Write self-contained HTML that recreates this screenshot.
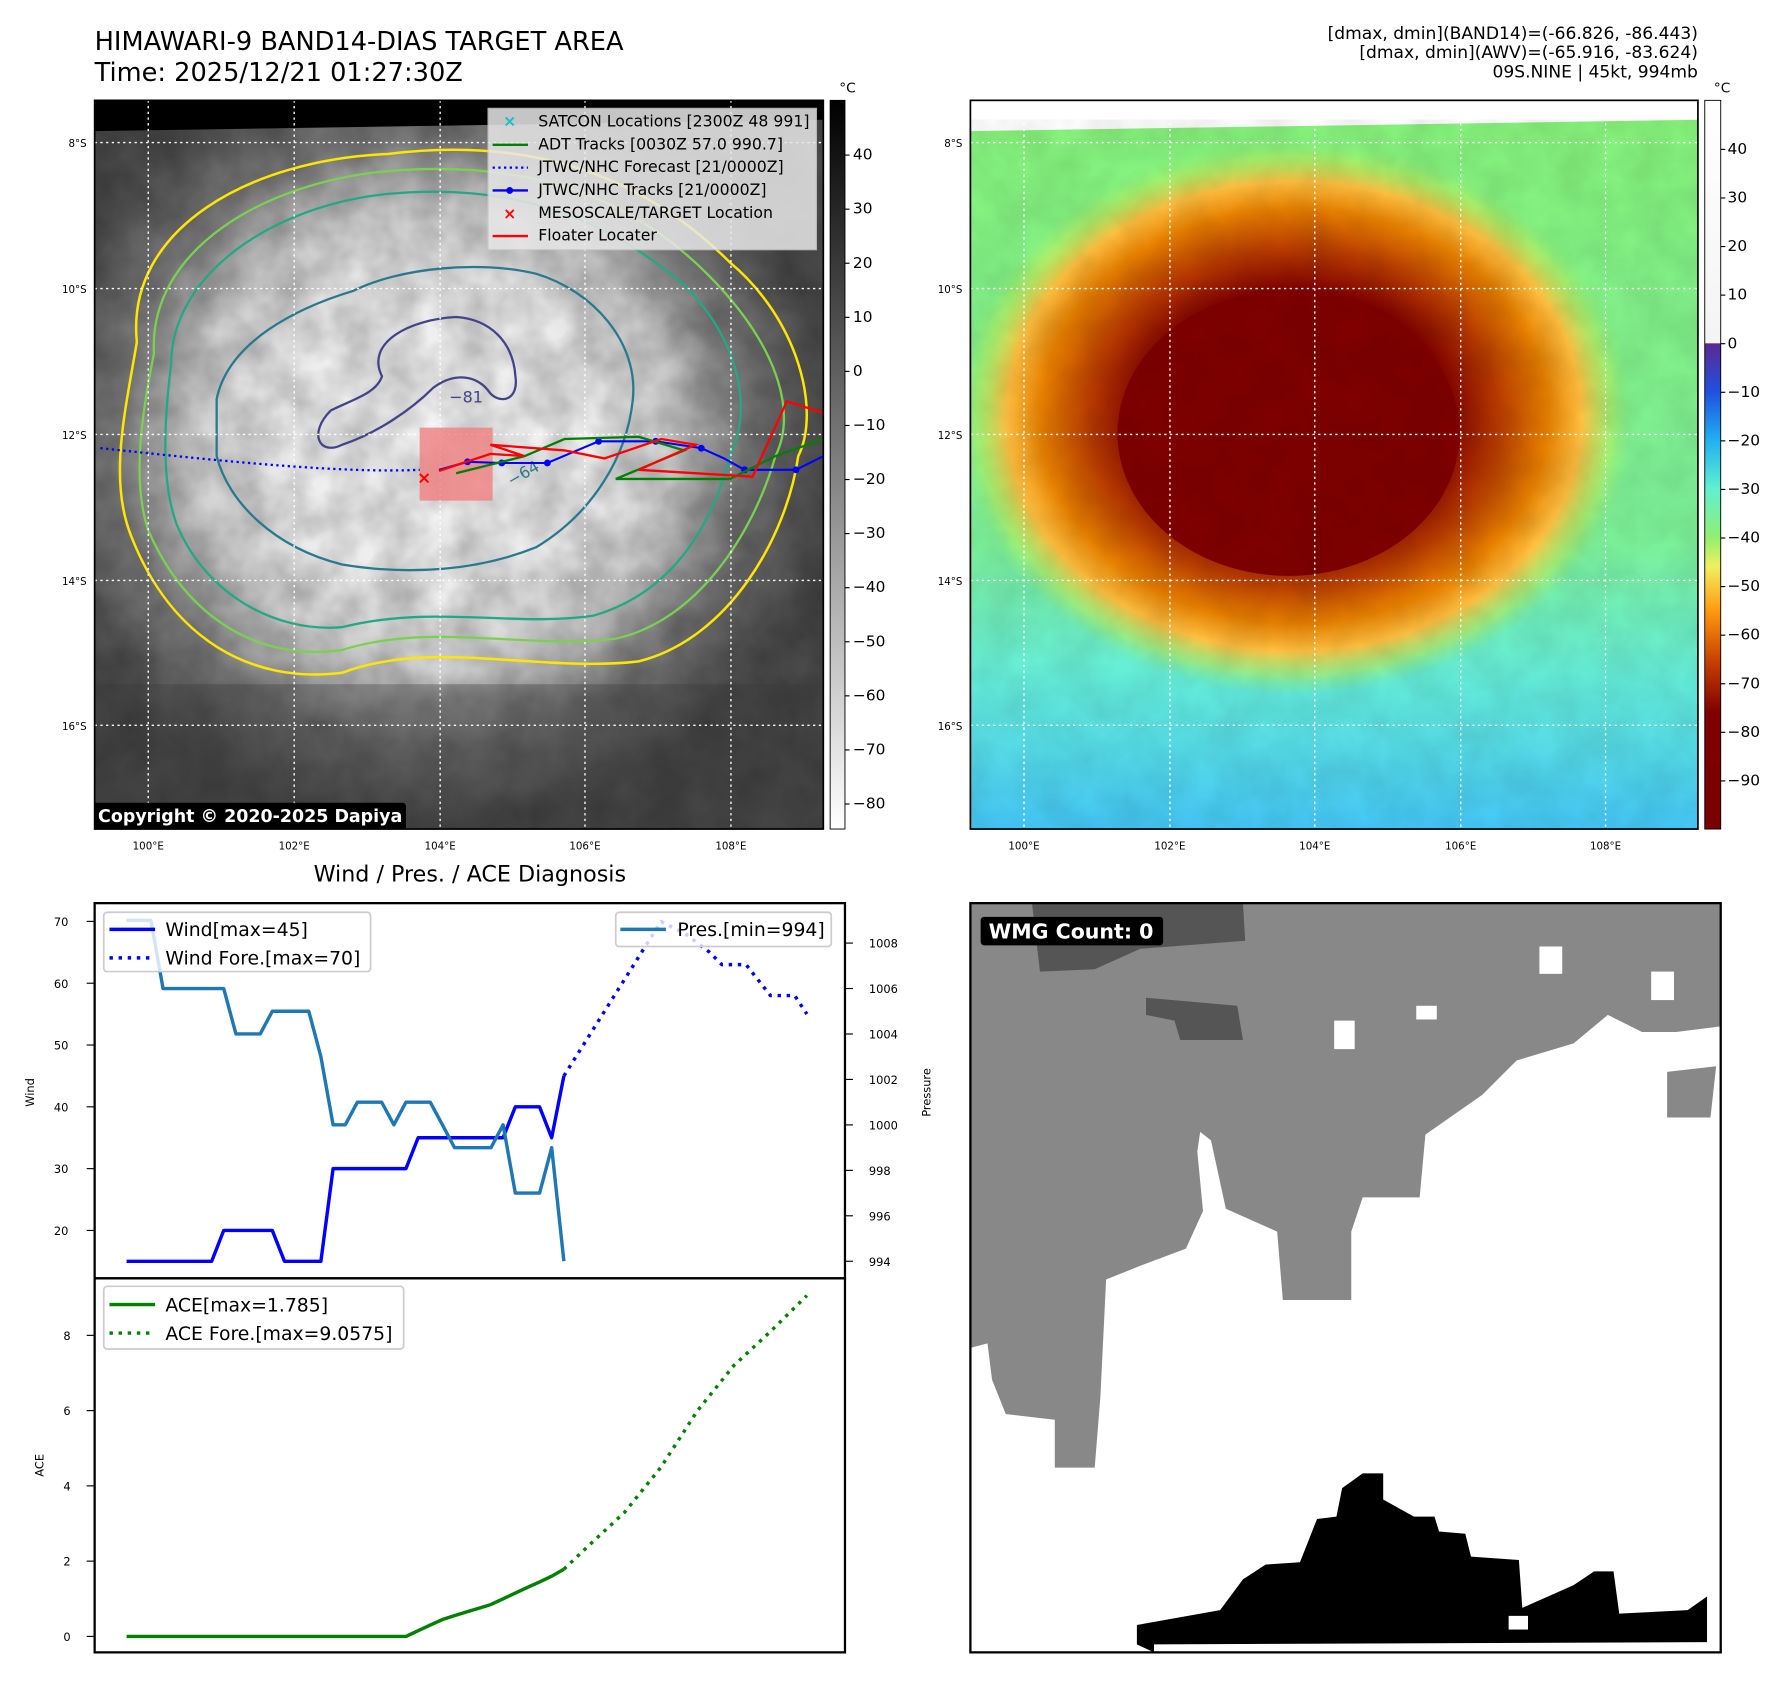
<!DOCTYPE html>
<html><head><meta charset="utf-8"><style>
html,body{margin:0;padding:0;background:#fff;}
svg{display:block;font-family:"DejaVu Sans","Liberation Sans",sans-serif;}
</style></head><body>
<svg id="root" width="1788" height="1690" viewBox="0 0 1568 1482" preserveAspectRatio="none" xmlns="http://www.w3.org/2000/svg">
<defs>
<radialGradient id="grayStorm" cx="0.46" cy="0.45" r="0.55">
<stop offset="0" stop-color="#f6f6f6"/><stop offset="0.4" stop-color="#ececec"/><stop offset="0.6" stop-color="#cfcfcf"/><stop offset="0.78" stop-color="#7a7a7a"/><stop offset="1" stop-color="#4a4a4a"/>
</radialGradient>
<radialGradient id="colStorm" cx="0.5" cy="0.5" r="0.5">
<stop offset="0" stop-color="#7d0000"/><stop offset="0.45" stop-color="#800000"/><stop offset="0.6" stop-color="#b83c00"/><stop offset="0.74" stop-color="#e88000"/><stop offset="0.84" stop-color="#ffc040"/><stop offset="0.93" stop-color="#b8f060" stop-opacity="0.6"/><stop offset="1" stop-color="#80f080" stop-opacity="0"/>
</radialGradient>
<linearGradient id="colBg" x1="0" y1="0" x2="0" y2="1">
<stop offset="0" stop-color="#86f27a"/><stop offset="0.6" stop-color="#7cf09a"/><stop offset="0.78" stop-color="#66eed8"/><stop offset="1" stop-color="#44c6f6"/>
</linearGradient>
<linearGradient id="cbGray" x1="0" y1="0" x2="0" y2="1"><stop offset="0" stop-color="#000"/><stop offset="1" stop-color="#fff"/></linearGradient>
<linearGradient id="cbCol" x1="0" y1="0" x2="0" y2="1">
<stop offset="0" stop-color="#fff"/><stop offset="0.333" stop-color="#f4f4f4"/><stop offset="0.334" stop-color="#5a2a90"/><stop offset="0.4" stop-color="#2050e0"/><stop offset="0.466" stop-color="#20b0f0"/><stop offset="0.533" stop-color="#60f0d0"/><stop offset="0.6" stop-color="#90f070"/><stop offset="0.64" stop-color="#f0f060"/><stop offset="0.7" stop-color="#ff9a10"/><stop offset="0.77" stop-color="#c84000"/><stop offset="0.84" stop-color="#800000"/><stop offset="1" stop-color="#7a0000"/>
</linearGradient>
<filter id="tex" x="0" y="0" width="1" height="1"><feTurbulence type="fractalNoise" baseFrequency="0.03" numOctaves="3" seed="4"/><feColorMatrix type="matrix" values="0 0 0 0 0  0 0 0 0 0  0 0 0 0 0  0 0 0 0.5 -0.1"/></filter>
<clipPath id="clipL"><rect x="83" y="88" width="639" height="639"/></clipPath>
<clipPath id="clipR"><rect x="851" y="88" width="638" height="639"/></clipPath>
</defs>

<text x="83" y="44" font-size="22.5">HIMAWARI-9 BAND14-DIAS TARGET AREA</text>
<text x="83" y="71" font-size="22.5">Time: 2025/12/21 01:27:30Z</text>
<g font-size="15" text-anchor="end">
<text x="1489" y="34">[dmax, dmin](BAND14)=(-66.826, -86.443)</text>
<text x="1489" y="51">[dmax, dmin](AWV)=(-65.916, -83.624)</text>
<text x="1489" y="68">09S.NINE | 45kt, 994mb</text>
</g>

<!-- LEFT MAP -->
<g clip-path="url(#clipL)">
<rect x="83" y="88" width="639" height="639" fill="#000"/>
<polygon points="83,115 722,105 722,727 83,727" fill="url(#grayStorm)"/>
<polygon points="83,115 722,105 722,727 83,727" filter="url(#tex)" opacity="0.7"/>
<rect x="83" y="600" width="639" height="127" fill="#383838" opacity="0.35"/>
<path d="M120,300 C110,200 220,140 340,135 C460,120 560,150 640,230 C700,280 720,360 700,400 C690,470 640,560 560,580 C470,590 380,560 300,590 C220,600 150,560 115,470 C95,420 110,360 120,300 Z" fill="none" stroke="#ffe600" stroke-width="2.2"/>
<path d="M135,310 C130,220 230,160 340,150 C460,140 550,170 620,240 C680,300 700,360 680,400 C660,470 610,545 540,560 C460,570 380,545 300,570 C230,580 165,545 130,465 C115,420 125,360 135,310 Z" fill="none" stroke="#7ad151" stroke-width="2"/>
<path d="M150,320 C150,240 240,180 340,170 C450,160 530,190 600,250 C650,300 660,360 640,400 C625,460 590,520 520,540 C450,550 380,530 300,550 C240,555 180,520 155,460 C140,420 145,360 150,320 Z" fill="none" stroke="#22a884" stroke-width="2"/>
<path d="M190,350 C200,300 260,270 310,255 C350,235 420,228 470,240 C520,255 560,300 555,350 C550,400 520,450 470,480 C420,500 360,505 300,495 C240,480 200,440 190,400 Z" fill="none" stroke="#2a788e" stroke-width="2"/>
<path d="M335,330 C320,300 360,280 400,278 C430,280 450,300 452,330 C455,350 440,355 430,345 C420,330 400,325 380,340 C360,360 330,380 300,390 C280,400 270,380 290,360 C310,350 330,345 335,330 Z" fill="none" stroke="#414487" stroke-width="2"/>
<text x="394" y="353" font-size="14" fill="#414487">−81</text>
<text x="462" y="423" font-size="14" fill="#2a788e" transform="rotate(-30 462 450)">−64</text>
<g stroke="#fff" stroke-width="1.2" stroke-dasharray="2,3">
<line x1="130" y1="88" x2="130" y2="727"/><line x1="258" y1="88" x2="258" y2="727"/><line x1="386" y1="88" x2="386" y2="727"/><line x1="513" y1="88" x2="513" y2="727"/><line x1="641" y1="88" x2="641" y2="727"/>
<line x1="83" y1="125" x2="722" y2="125"/><line x1="83" y1="253" x2="722" y2="253"/><line x1="83" y1="381" x2="722" y2="381"/><line x1="83" y1="509" x2="722" y2="509"/><line x1="83" y1="636" x2="722" y2="636"/>
</g>
<rect x="368" y="375" width="64" height="64" fill="#f08080" opacity="0.8"/>
<path d="M88,393 C200,405 300,415 368,412" fill="none" stroke="#0000ff" stroke-width="2" stroke-dasharray="2,3"/>
<polyline points="385,412 410,405 440,406 480,406 525,387 575,387 615,393 635,402 653,412 698,412 722,400" fill="none" stroke="#0000ff" stroke-width="1.8"/>
<g fill="#0000ff"><circle cx="410" cy="405" r="3"/><circle cx="440" cy="406" r="3"/><circle cx="480" cy="406" r="3"/><circle cx="525" cy="387" r="3"/><circle cx="575" cy="387" r="3"/><circle cx="615" cy="393" r="3"/><circle cx="653" cy="412" r="3"/><circle cx="698" cy="412" r="3"/></g>
<polyline points="400,415 460,400 495,385 560,383 600,395 540,420 640,420 680,400 722,385" fill="none" stroke="#008000" stroke-width="2"/>
<polyline points="385,413 430,398 460,400 430,390 495,395 530,402 580,385 610,390 560,412 660,418 690,352 722,362" fill="none" stroke="#ff0000" stroke-width="2"/>
<text x="372" y="424" font-size="15" font-weight="bold" fill="#ff0000" text-anchor="middle">×</text>
<rect x="428" y="95" width="288" height="124" fill="#e8e8e8" opacity="0.85" stroke="#ccc"/>
<g font-size="13.8" fill="#000">
<text x="447" y="111" fill="#17becf" font-weight="bold" text-anchor="middle">×</text><text x="472" y="111">SATCON Locations [2300Z 48 991]</text>
<line x1="432" y1="127" x2="463" y2="127" stroke="#008000" stroke-width="2"/><text x="472" y="131">ADT Tracks [0030Z 57.0 990.7]</text>
<line x1="432" y1="147" x2="463" y2="147" stroke="#0000ff" stroke-width="2" stroke-dasharray="2,3"/><text x="472" y="151">JTWC/NHC Forecast [21/0000Z]</text>
<line x1="432" y1="167" x2="463" y2="167" stroke="#0000ff" stroke-width="2"/><circle cx="447" cy="167" r="3" fill="#0000ff"/><text x="472" y="171">JTWC/NHC Tracks [21/0000Z]</text>
<text x="447" y="192" fill="#ff0000" font-weight="bold" text-anchor="middle">×</text><text x="472" y="191">MESOSCALE/TARGET Location</text>
<line x1="432" y1="207" x2="463" y2="207" stroke="#ff0000" stroke-width="2"/><text x="472" y="211">Floater Locater</text>
</g>
<rect x="81" y="704" width="275" height="24" rx="3" fill="#000"/>
<text x="86" y="721" font-size="15.3" font-weight="bold" fill="#fff">Copyright © 2020-2025 Dapiya</text>
</g>
<rect x="83" y="88" width="639" height="639" fill="none" stroke="#000" stroke-width="1.5"/>
<g font-size="9" text-anchor="end">
<text x="76" y="129">8°S</text><text x="76" y="257">10°S</text><text x="76" y="385">12°S</text><text x="76" y="513">14°S</text><text x="76" y="640">16°S</text></g>
<g font-size="9" text-anchor="middle">
<text x="130" y="745">100°E</text><text x="258" y="745">102°E</text><text x="386" y="745">104°E</text><text x="513" y="745">106°E</text><text x="641" y="745">108°E</text></g>
<rect x="728" y="88" width="13" height="639" fill="url(#cbGray)" stroke="#000" stroke-width="0.8"/>
<text x="736" y="81" font-size="12">°C</text>
<g id="cbL" font-size="13.5"></g>

<!-- RIGHT MAP -->
<g clip-path="url(#clipR)">
<rect x="851" y="88" width="638" height="639" fill="#fff"/>
<polygon points="851,115 1489,105 1489,727 851,727" fill="url(#colBg)"/>
<ellipse cx="1135" cy="365" rx="300" ry="245" fill="url(#colStorm)"/>
<ellipse cx="1130" cy="380" rx="150" ry="125" fill="#800000"/>
<polygon points="851,115 1489,105 1489,727 851,727" filter="url(#tex)" opacity="0.25"/>
<g stroke="#fff" stroke-width="1.2" stroke-dasharray="2,3">
<line x1="898" y1="88" x2="898" y2="727"/><line x1="1026" y1="88" x2="1026" y2="727"/><line x1="1153" y1="88" x2="1153" y2="727"/><line x1="1281" y1="88" x2="1281" y2="727"/><line x1="1408" y1="88" x2="1408" y2="727"/>
<line x1="851" y1="125" x2="1489" y2="125"/><line x1="851" y1="253" x2="1489" y2="253"/><line x1="851" y1="381" x2="1489" y2="381"/><line x1="851" y1="509" x2="1489" y2="509"/><line x1="851" y1="636" x2="1489" y2="636"/>
</g>
</g>
<rect x="851" y="88" width="638" height="639" fill="none" stroke="#000" stroke-width="1.5"/>
<g font-size="9" text-anchor="end">
<text x="844" y="129">8°S</text><text x="844" y="257">10°S</text><text x="844" y="385">12°S</text><text x="844" y="513">14°S</text><text x="844" y="640">16°S</text></g>
<g font-size="9" text-anchor="middle">
<text x="898" y="745">100°E</text><text x="1026" y="745">102°E</text><text x="1153" y="745">104°E</text><text x="1281" y="745">106°E</text><text x="1408" y="745">108°E</text></g>
<rect x="1495" y="88" width="14" height="639" fill="url(#cbCol)" stroke="#000" stroke-width="0.8"/>
<text x="1503" y="81" font-size="12">°C</text>
<g id="cbR" font-size="13.5"></g>

<!-- CHART -->
<text x="412" y="773" font-size="19.5" text-anchor="middle">Wind / Pres. / ACE Diagnosis</text>
<g id="chart"></g>
<rect x="83" y="792" width="658" height="329" fill="none" stroke="#000" stroke-width="2"/>
<rect x="83" y="1121" width="658" height="328" fill="none" stroke="#000" stroke-width="2"/>
<text transform="translate(30 958) rotate(-90)" font-size="10" text-anchor="middle">Wind</text>
<text transform="translate(816 958) rotate(-90)" font-size="10" text-anchor="middle">Pressure</text>
<text transform="translate(38 1285) rotate(-90)" font-size="10" text-anchor="middle">ACE</text>
<g>
<rect x="91" y="800" width="234" height="52" rx="3" fill="#fff" fill-opacity="0.8" stroke="#ccc" stroke-width="1.5"/>
<line x1="96" y1="815" x2="136" y2="815" stroke="#0000ff" stroke-width="3"/><text x="145" y="821" font-size="16.5">Wind[max=45]</text>
<line x1="96" y1="840" x2="136" y2="840" stroke="#0000ff" stroke-width="3" stroke-dasharray="3,5"/><text x="145" y="846" font-size="16.5">Wind Fore.[max=70]</text></g>
<g>
<rect x="540" y="800" width="189" height="30" rx="3" fill="#fff" fill-opacity="0.8" stroke="#ccc" stroke-width="1.5"/>
<line x1="544" y1="815" x2="584" y2="815" stroke="#1f77b4" stroke-width="3"/><text x="594" y="821" font-size="16.5">Pres.[min=994]</text></g>
<g>
<rect x="91" y="1128" width="263" height="55" rx="3" fill="#fff" fill-opacity="0.8" stroke="#ccc" stroke-width="1.5"/>
<line x1="96" y1="1144" x2="136" y2="1144" stroke="#008000" stroke-width="3"/><text x="145" y="1150" font-size="16.5">ACE[max=1.785]</text>
<line x1="96" y1="1169" x2="136" y2="1169" stroke="#008000" stroke-width="3" stroke-dasharray="3,5"/><text x="145" y="1175" font-size="16.5">ACE Fore.[max=9.0575]</text></g>

<!-- WMG -->
<g>
<rect x="851" y="792" width="658" height="657" fill="#fff"/>
<polygon points="851,792 1509,792 1509,900 1470,905 1440,905 1410,890 1380,915 1330,930 1300,960 1250,995 1245,1050 1195,1050 1185,1080 1185,1140 1125,1140 1120,1080 1075,1060 1062,1000 1030,975 1020,990 1000,980 1018,960 1010,945 1040,935 1060,940 1050,1010 1055,1062 1040,1095 1000,1110 970,1122 965,1225 960,1287 925,1287 925,1245 882,1240 870,1210 866,1178 851,1182" fill="#888"/>
<polygon points="1462,940 1505,935 1500,980 1462,980" fill="#888"/>
<polygon points="905,792 1090,792 1092,825 1000,832 960,850 912,852" fill="#555"/>
<polygon points="1005,875 1085,882 1090,912 1035,912 1030,895 1005,890" fill="#555"/>
<rect x="1350" y="830" width="20" height="24" fill="#fff"/><rect x="1448" y="852" width="20" height="25" fill="#fff"/><rect x="1242" y="882" width="18" height="12" fill="#fff"/><rect x="1170" y="895" width="18" height="25" fill="#fff"/>
<polygon points="997,1425 1070,1412 1090,1385 1110,1372 1140,1370 1155,1332 1172,1330 1177,1305 1195,1292 1213,1292 1213,1315 1240,1330 1258,1330 1262,1343 1285,1345 1290,1365 1332,1368 1335,1410 1380,1390 1398,1378 1415,1378 1420,1415 1480,1412 1497,1400 1497,1440 1012,1442 1012,1449 997,1442" fill="#000"/>
<rect x="1323" y="1417" width="17" height="12" fill="#fff"/>
<rect x="860" y="804" width="160" height="25" rx="3" fill="#000"/>
<text x="867" y="823" font-size="18" font-weight="bold" fill="#fff">WMG Count: 0</text>
<rect x="851" y="792" width="658" height="657" fill="none" stroke="#000" stroke-width="2"/>
</g>
</svg>
<script>
// ===== chart data =====
const windObs = [15,15,15,15,15,15,15,15,20,20,20,20,20,15,15,15,15,30,30,30,30,30,30,30,35,35,35,35,35,35,35,35,40,40,40,35,45];
const windForeIdx = [36,44,46,48,49,51,53,55,56];
const windFore = [45,70,68,65,63,63,58,58,55];
const presObs = [1009,1009,1009,1006,1006,1006,1006,1006,1006,1004,1004,1004,1005,1005,1005,1005,1003,1000,1000,1001,1001,1001,1000,1001,1001,1001,1000,999,999,999,999,1000,997,997,997,999,994];
const aceObs = [0,0,0,0,0,0,0,0,0,0,0,0,0,0,0,0,0,0,0,0,0,0,0,0,0.15,0.3,0.45,0.55,0.65,0.75,0.85,1.0,1.15,1.3,1.45,1.6,1.785];
const aceForeIdx = [36,38,41,44,47,50,53,56];
const aceFore = [1.785,2.4,3.3,4.5,6.0,7.2,8.1,9.0575];
const windTicks = [20,30,40,50,60,70];
const presTicks = [994,996,998,1000,1002,1004,1006,1008];
const aceTicks = [0,2,4,6,8];
const grayCbTicks = [40,30,20,10,0,-10,-20,-30,-40,-50,-60,-70,-80];
const colCbTicks = [40,30,20,10,0,-10,-20,-30,-40,-50,-60,-70,-80,-90];

const NS='http://www.w3.org/2000/svg';
const xS = i => 111 + i*(494.5-111)/36;
const yW = v => 808 + (70-v)*5.42;
const yP = p => 827 + (1008-p)*19.93;
const yA = a => 1435 - a*33;
const yCbL = v => 136 + (40-v)*4.742;
const yCbR = v => 131 + (40-v)*4.26;
const chart = document.getElementById('chart');
function mk(tag, attrs, parent){const e=document.createElementNS(NS,tag);for(const k in attrs)e.setAttribute(k,attrs[k]);parent.appendChild(e);return e;}
function poly(xs, ys, color, dash, name){
  const p = mk('polyline',{points:xs.map((x,i)=>x.toFixed(1)+','+ys[i].toFixed(1)).join(' '),fill:'none',stroke:color,'stroke-width':3,'stroke-dasharray':dash||'none','stroke-linejoin':'round'},chart);
  
  
}
poly(windObs.map((_,i)=>xS(i)), windObs.map(yW), '#0000ff', null, 'wind-line');
poly(windForeIdx.map(xS), windFore.map(yW), '#0000ff', '3,5', 'wind-forecast-line');
poly(presObs.map((_,i)=>xS(i)), presObs.map(yP), '#1f77b4', null, 'pressure-line');
poly(aceObs.map((_,i)=>xS(i)), aceObs.map(yA), '#008000', null, 'ace-line');
poly(aceForeIdx.map(xS), aceFore.map(yA), '#008000', '3,5', 'ace-forecast-line');
function tick(x1,y,x2,label,tx,anchor,name,parent,fs){
  mk('line',{x1:x1,y1:y,x2:x2,y2:y,stroke:'#000','stroke-width':1},parent);
  const t=mk('text',{x:tx,y:y+4,'font-size':fs||10,'text-anchor':anchor},parent);
  t.textContent=label;
  
  
}
windTicks.forEach(v=>tick(76,yW(v),83,v,60,'end','wind-tick',chart));
presTicks.forEach(v=>tick(741,yP(v),748,v,762,'start','pressure-tick',chart));
aceTicks.forEach(v=>tick(76,yA(v),83,v,62,'end','ace-tick',chart));
const cbL=document.getElementById('cbL'), cbR=document.getElementById('cbR');
grayCbTicks.forEach(v=>tick(741,yCbL(v),745,v<0?'−'+(-v):v,748,'start','gray-colorbar-tick',cbL,13.5));
colCbTicks.forEach(v=>tick(1509,yCbR(v),1513,v<0?'−'+(-v):v,1515,'start','color-colorbar-tick',cbR,13.5));
</script>
</body></html>
